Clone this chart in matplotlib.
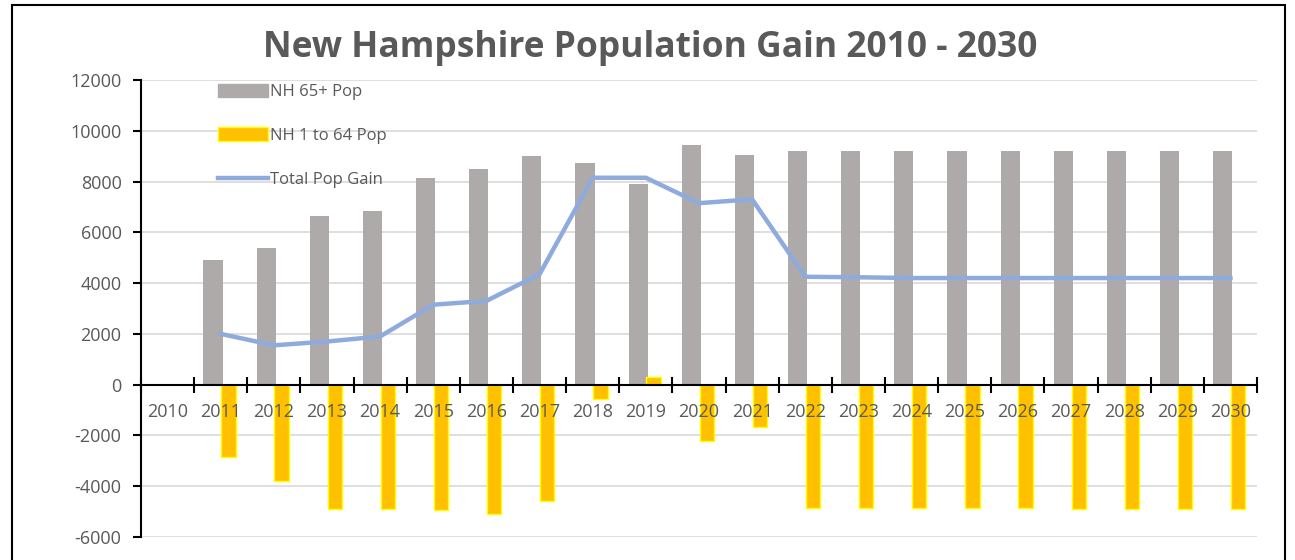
import numpy as np
import matplotlib
matplotlib.use('Agg')
import matplotlib.pyplot as plt
from matplotlib.patches import Rectangle
from matplotlib.lines import Line2D

plt.rcParams['font.family'] = ['Open Sans', 'DejaVu Sans']
plt.rcParams['axes.unicode_minus'] = False

years = [str(y) for y in range(2010, 2031)]
# 2010 has no values in the chart
pop_65 = [np.nan, 4900, 5400, 6650, 6850, 8150, 8500, 9000, 8750, 7900, 9450,
          9050, 9200, 9200, 9200, 9200, 9200, 9200, 9200, 9200, 9200]
pop_1_64 = [np.nan, -2850, -3800, -4900, -4900, -4950, -5100, -4600, -550, 300, -2200,
            -1650, -4870, -4870, -4870, -4870, -4870, -4900, -4900, -4900, -4900]
total_gain = [np.nan, 2000, 1550, 1700, 1900, 3150, 3300, 4350, 8150, 8150, 7150,
              7300, 4250, 4230, 4200, 4200, 4200, 4200, 4200, 4200, 4200]

grey = '#AEAAAA'
gold = '#FFC000'
blue = '#8FAADC'
txt = '#595959'

fig = plt.figure(figsize=(12.95, 5.6), dpi=100)
ax = fig.add_axes([141 / 1295, 1 - 537 / 560, (1257 - 141) / 1295, (537 - 80) / 560])

yt = list(range(-6000, 12001, 2000))
for v in yt:
    ax.axhline(v, color='#D9D9D9', linewidth=1.2, zorder=1)

x = np.arange(len(years))
ax.bar(x - 0.145, pop_65, width=0.36, color=grey, zorder=2, label='NH 65+ Pop')
ax.bar(x + 0.145, pop_1_64, width=0.27, color=gold, edgecolor='#FFFF00', linewidth=1,
       zorder=2, label='NH 1 to 64 Pop')
ax.plot(x, total_gain, color=blue, linewidth=3.2, zorder=3, label='Total Pop Gain')

ax.set_xlim(-0.5, len(years) - 0.5)
ax.set_ylim(-6000, 12000)
ax.set_yticks(yt)

# x axis sits on the zero line, ticks at category boundaries, labels at centres
ax.spines['bottom'].set_position(('data', 0))
ax.spines['bottom'].set_linewidth(1.5)
ax.spines['bottom'].set_zorder(4)
ax.spines['left'].set_linewidth(1.5)
ax.spines['top'].set_visible(False)
ax.spines['right'].set_visible(False)
ax.xaxis.set_zorder(5)
ax.set_xticks(np.arange(-0.5, len(years)), minor=False)
ax.set_xticklabels([])
ax.set_xticks(x, minor=True)
ax.set_xticklabels(years, minor=True)
ax.tick_params(axis='x', which='major', direction='inout', length=12, width=1.5, color='black')
ax.tick_params(axis='x', which='minor', length=0, pad=13, labelsize=13, labelcolor=txt)
ax.tick_params(axis='y', direction='out', length=6, width=1.5, labelsize=13, labelcolor=txt, pad=8)

fig.text(0.502, 0.914, 'New Hampshire Population Gain 2010 - 2030', ha='center', va='center',
         fontsize=25.5, fontweight='bold', color=txt)

handles = [Rectangle((0, 0), 1, 1, color=grey),
           Rectangle((0, 0), 1, 1, facecolor=gold, edgecolor='#FFFF00'),
           Line2D([0], [0], color=blue, linewidth=3.2)]
leg = ax.legend(handles, ['NH 65+ Pop', 'NH 1 to 64 Pop', 'Total Pop Gain'],
                loc='upper left', bbox_to_anchor=(0.056, 1.025), frameon=False,
                fontsize=12, labelcolor=txt, labelspacing=1.65, handlelength=3.0,
                handleheight=0.85, handletextpad=0.1)
leg.set_zorder(6)

# outer frame around the chart
fig.add_artist(Rectangle((12 / 1295, -0.05), (1285 - 12) / 1295, 1.05 - 5 / 560,
                         transform=fig.transFigure, fill=False, edgecolor='black',
                         linewidth=1.5))

fig.savefig('out.png', dpi=100)
